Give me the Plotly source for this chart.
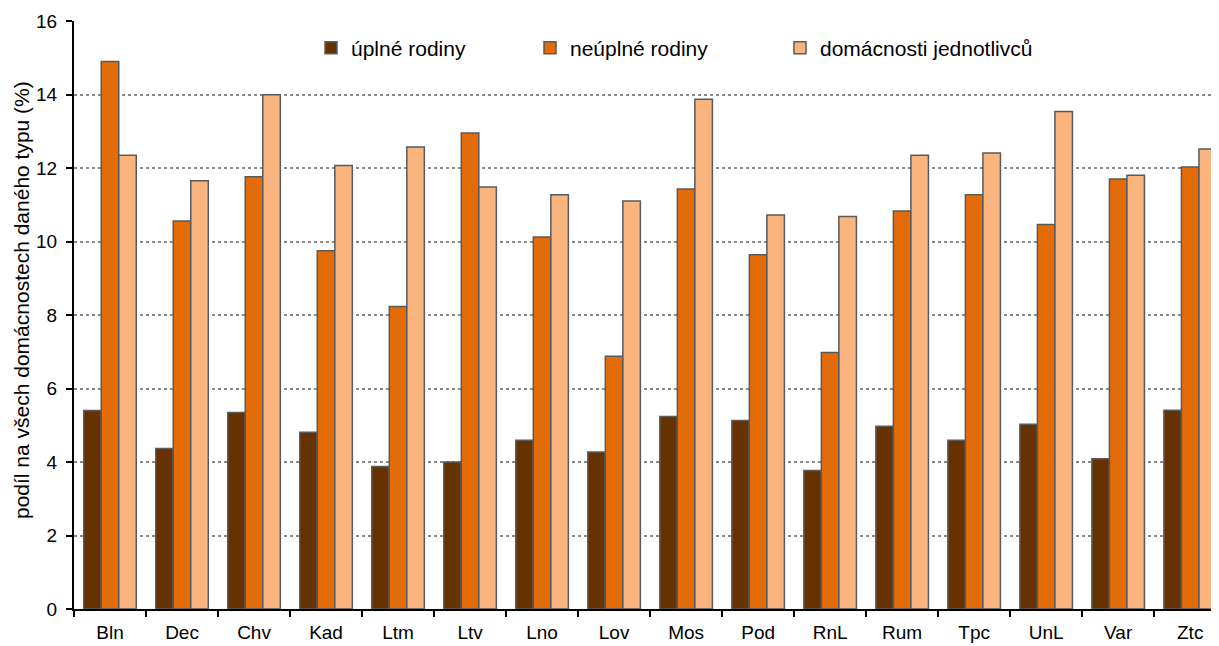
import plotly.graph_objects as go

# okresy / obvody
categories = ["Bln", "Dec", "Chv", "Kad", "Ltm", "Ltv", "Lno", "Lov",
              "Mos", "Pod", "RnL", "Rum", "Tpc", "UnL", "Var", "Ztc"]

# podíl (%) podle typu domácnosti
uplne = [5.40, 4.37, 5.35, 4.81, 3.88, 4.00, 4.59, 4.27,
         5.24, 5.13, 3.77, 4.97, 4.59, 5.03, 4.09, 5.41]
neuplne = [14.90, 10.56, 11.76, 9.75, 8.23, 12.95, 10.12, 6.88,
           11.43, 9.64, 6.98, 10.83, 11.27, 10.46, 11.70, 12.03]
jednotlivci = [12.35, 11.65, 13.99, 12.07, 12.57, 11.48, 11.27, 11.10,
               13.87, 10.72, 10.68, 12.35, 12.41, 13.54, 11.80, 12.52]

series = [
    ("úplné rodiny", uplne, "#663300", "legend"),
    ("neúplné rodiny", neuplne, "#E36C09", "legend2"),
    ("domácnosti jednotlivců", jednotlivci, "#F9B57D", "legend3"),
]

FONT = "Liberation Sans, Arial, sans-serif"
# stránka má okraj 8 px, proto jsou okraje grafu o 8 px menší
OFF = 8
W, H = 1219, 646
L, T, R, B = 74 - OFF, 21 - OFF, OFF, 646 - 609 + OFF
PW, PH = W - L - R, H - T - B


def px_x(xw):
    return (xw - OFF - L) / PW


def px_y(yw):
    return 1 - (yw - OFF - T) / PH


fig = go.Figure()
for name, vals, col, leg in series:
    fig.add_trace(go.Bar(
        x=categories, y=vals, name=name, legend=leg,
        marker=dict(color=col, line=dict(color="#5a5a5a", width=1.5)),
    ))

# tři legendy, každá na své pozici jako v originálu
leg_common = dict(orientation="h", yanchor="middle", bgcolor="rgba(0,0,0,0)",
                  font=dict(family=FONT, size=21, color="black"))
fig.update_layout(
    legend=dict(x=px_x(311), y=px_y(48), **leg_common),
    legend2=dict(x=px_x(530), y=px_y(48), **leg_common),
    legend3=dict(x=px_x(780), y=px_y(48), **leg_common),
)

fig.update_layout(
    width=W, height=H,
    margin=dict(l=L, r=R, t=T, b=B, autoexpand=False),
    paper_bgcolor="white", plot_bgcolor="white",
    barmode="group", bargap=0.27, bargroupgap=0,
    font=dict(family=FONT, size=19, color="black"),
    showlegend=True,
)

fig.update_xaxes(
    type="category", range=[-0.5, 15.4],
    showline=True, linecolor="black", linewidth=2,
    ticks="outside", tickson="boundaries", ticklen=6, tickcolor="black", tickwidth=2,
    showgrid=False, tickfont=dict(size=19), ticklabelstandoff=5,
)
fig.update_yaxes(
    range=[0, 16], dtick=2,
    showline=True, linecolor="black", linewidth=2,
    ticks="outside", ticklen=6, tickcolor="black", tickwidth=2,
    showgrid=True, gridcolor="#8a8a8a", gridwidth=1.5, griddash="dot",
    zeroline=False, tickfont=dict(size=19), ticklabelstandoff=5,
)

# popis osy y
fig.add_annotation(
    text="podíl na všech domácnostech daného typu (%)",
    xref="paper", yref="paper", x=px_x(21), y=px_y(300),
    xanchor="center", yanchor="middle", textangle=-90, showarrow=False,
    font=dict(family=FONT, size=21, color="black"),
)

fig.write_html("out.html")
